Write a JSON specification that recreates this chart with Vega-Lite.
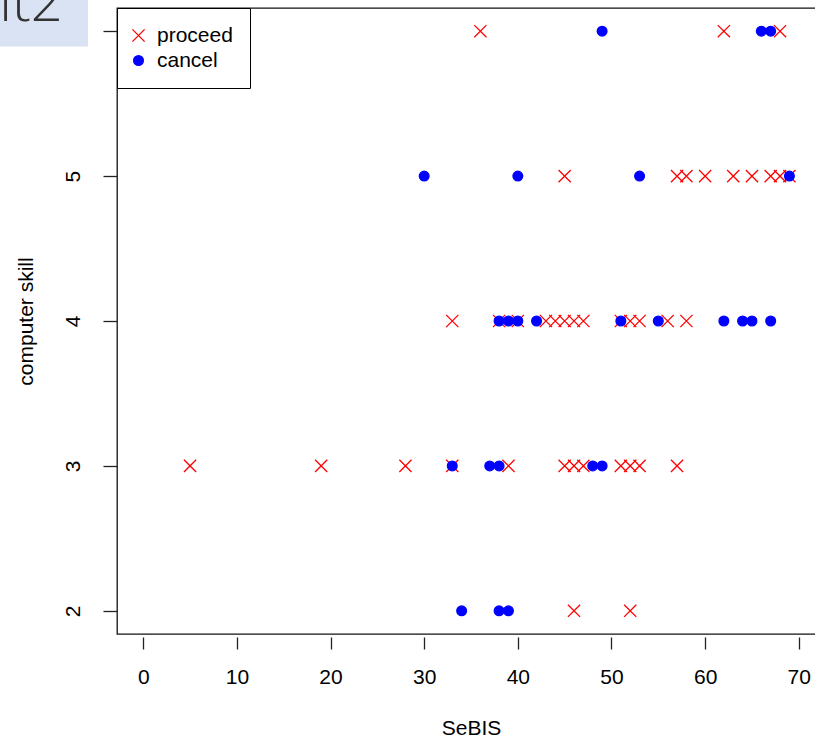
{
  "$schema": "https://vega.github.io/schema/vega-lite/v6.json",
  "width": 708,
  "height": 626,
  "autosize": {"type": "none"},
  "padding": {"left": 117, "top": 8, "right": 0, "bottom": 104},
  "background": "white",
  "config": {
    "view": {"stroke": "#111111", "strokeWidth": 1.3},
    "font": "Liberation Sans",
    "axis": {"grid": false, "labelFont": "Liberation Sans", "titleFont": "Liberation Sans"}
  },
  "layer": [
    {
      "data": {"values": [{}]},
      "mark": {"type": "rect", "color": "#dae3f3", "clip": false},
      "encoding": {
        "x": {"datum": -20, "type": "quantitative"},
        "x2": {"datum": -5.9},
        "y": {"datum": 6.4, "type": "quantitative"},
        "y2": {"datum": 5.895}
      }
    },
    {
      "data": {"values": [{"label": "lt2"}]},
      "mark": {"type": "text", "align": "right", "baseline": "alphabetic", "font": "Open Sans", "fontWeight": 300, "fontSize": 56, "color": "#333333", "clip": false},
      "encoding": {
        "x": {"datum": -8.6, "type": "quantitative"},
        "y": {"datum": 6.07, "type": "quantitative"},
        "text": {"field": "label"}
      }
    },
    {
      "data": {
        "values": [
          {"SeBIS": 36, "skill": 6, "decision": "proceed"},
          {"SeBIS": 62, "skill": 6, "decision": "proceed"},
          {"SeBIS": 68, "skill": 6, "decision": "proceed"},
          {"SeBIS": 45, "skill": 5, "decision": "proceed"},
          {"SeBIS": 57, "skill": 5, "decision": "proceed"},
          {"SeBIS": 58, "skill": 5, "decision": "proceed"},
          {"SeBIS": 60, "skill": 5, "decision": "proceed"},
          {"SeBIS": 63, "skill": 5, "decision": "proceed"},
          {"SeBIS": 65, "skill": 5, "decision": "proceed"},
          {"SeBIS": 67, "skill": 5, "decision": "proceed"},
          {"SeBIS": 68, "skill": 5, "decision": "proceed"},
          {"SeBIS": 69, "skill": 5, "decision": "proceed"},
          {"SeBIS": 33, "skill": 4, "decision": "proceed"},
          {"SeBIS": 38, "skill": 4, "decision": "proceed"},
          {"SeBIS": 40, "skill": 4, "decision": "proceed"},
          {"SeBIS": 43, "skill": 4, "decision": "proceed"},
          {"SeBIS": 44, "skill": 4, "decision": "proceed"},
          {"SeBIS": 45, "skill": 4, "decision": "proceed"},
          {"SeBIS": 46, "skill": 4, "decision": "proceed"},
          {"SeBIS": 47, "skill": 4, "decision": "proceed"},
          {"SeBIS": 51, "skill": 4, "decision": "proceed"},
          {"SeBIS": 52, "skill": 4, "decision": "proceed"},
          {"SeBIS": 53, "skill": 4, "decision": "proceed"},
          {"SeBIS": 56, "skill": 4, "decision": "proceed"},
          {"SeBIS": 58, "skill": 4, "decision": "proceed"},
          {"SeBIS": 5, "skill": 3, "decision": "proceed"},
          {"SeBIS": 19, "skill": 3, "decision": "proceed"},
          {"SeBIS": 28, "skill": 3, "decision": "proceed"},
          {"SeBIS": 33, "skill": 3, "decision": "proceed"},
          {"SeBIS": 39, "skill": 3, "decision": "proceed"},
          {"SeBIS": 45, "skill": 3, "decision": "proceed"},
          {"SeBIS": 46, "skill": 3, "decision": "proceed"},
          {"SeBIS": 47, "skill": 3, "decision": "proceed"},
          {"SeBIS": 51, "skill": 3, "decision": "proceed"},
          {"SeBIS": 52, "skill": 3, "decision": "proceed"},
          {"SeBIS": 53, "skill": 3, "decision": "proceed"},
          {"SeBIS": 57, "skill": 3, "decision": "proceed"},
          {"SeBIS": 46, "skill": 2, "decision": "proceed"},
          {"SeBIS": 52, "skill": 2, "decision": "proceed"},
          {"SeBIS": 49, "skill": 6, "decision": "cancel"},
          {"SeBIS": 66, "skill": 6, "decision": "cancel"},
          {"SeBIS": 67, "skill": 6, "decision": "cancel"},
          {"SeBIS": 30, "skill": 5, "decision": "cancel"},
          {"SeBIS": 40, "skill": 5, "decision": "cancel"},
          {"SeBIS": 53, "skill": 5, "decision": "cancel"},
          {"SeBIS": 69, "skill": 5, "decision": "cancel"},
          {"SeBIS": 38, "skill": 4, "decision": "cancel"},
          {"SeBIS": 39, "skill": 4, "decision": "cancel"},
          {"SeBIS": 40, "skill": 4, "decision": "cancel"},
          {"SeBIS": 42, "skill": 4, "decision": "cancel"},
          {"SeBIS": 51, "skill": 4, "decision": "cancel"},
          {"SeBIS": 55, "skill": 4, "decision": "cancel"},
          {"SeBIS": 62, "skill": 4, "decision": "cancel"},
          {"SeBIS": 64, "skill": 4, "decision": "cancel"},
          {"SeBIS": 65, "skill": 4, "decision": "cancel"},
          {"SeBIS": 67, "skill": 4, "decision": "cancel"},
          {"SeBIS": 33, "skill": 3, "decision": "cancel"},
          {"SeBIS": 37, "skill": 3, "decision": "cancel"},
          {"SeBIS": 38, "skill": 3, "decision": "cancel"},
          {"SeBIS": 48, "skill": 3, "decision": "cancel"},
          {"SeBIS": 49, "skill": 3, "decision": "cancel"},
          {"SeBIS": 34, "skill": 2, "decision": "cancel"},
          {"SeBIS": 38, "skill": 2, "decision": "cancel"},
          {"SeBIS": 39, "skill": 2, "decision": "cancel"}
        ]
      },
      "mark": {"type": "point", "filled": true, "size": 95, "strokeWidth": 1.3, "opacity": 1},
      "encoding": {
        "x": {
          "field": "SeBIS", "type": "quantitative",
          "scale": {"domain": [-2.8, 72.8], "nice": false, "zero": false},
          "axis": {
            "title": "SeBIS", "values": [0, 10, 20, 30, 40, 50, 60, 70], "format": "d",
            "offset": 3, "domain": false, "tickSize": 12, "tickColor": "#222222", "tickWidth": 1.3,
            "labelFontSize": 21, "labelColor": "black", "labelPadding": 17, "labelFlush": false,
            "titleFontSize": 21, "titleFontWeight": "normal", "titleColor": "black", "titlePadding": 30
          }
        },
        "y": {
          "field": "skill", "type": "quantitative",
          "scale": {"domain": [1.84, 6.16], "nice": false, "zero": false},
          "axis": {
            "title": "computer skill", "values": [2, 3, 4, 5, 6], "format": "d",
            "domain": false, "tickSize": 14, "tickColor": "#222222", "tickWidth": 1.3,
            "labelAngle": -90, "labelAlign": "center", "labelBaseline": "bottom",
            "labelFontSize": 21, "labelColor": "black", "labelPadding": 20, "labelFlush": false,
            "titleFontSize": 21, "titleFontWeight": "normal", "titleColor": "black", "titlePadding": 26
          }
        },
        "fill": {
          "field": "decision", "type": "nominal",
          "scale": {"domain": ["proceed", "cancel"], "range": ["#FF0000", "#0000FF"]},
          "legend": {
            "orient": "top-left", "offset": 0, "title": null,
            "strokeColor": "black", "fillColor": "white", "padding": 17,
            "labelFontSize": 21, "labelColor": "black", "labelFont": "Liberation Sans",
            "symbolSize": 95, "symbolStrokeWidth": 1.3, "rowPadding": 3, "labelOffset": 8, "symbolOffset": -6
          }
        },
        "stroke": {
          "field": "decision", "type": "nominal",
          "scale": {"domain": ["proceed", "cancel"], "range": ["#FF0000", "#0000FF"]},
          "legend": {
            "orient": "top-left", "offset": 0, "title": null,
            "strokeColor": "black", "fillColor": "white", "padding": 17,
            "labelFontSize": 21, "labelColor": "black", "labelFont": "Liberation Sans",
            "symbolSize": 95, "symbolStrokeWidth": 1.3, "rowPadding": 3, "labelOffset": 8, "symbolOffset": -6
          }
        },
        "shape": {
          "field": "decision", "type": "nominal",
          "scale": {"domain": ["proceed", "cancel"], "range": ["M-1.25,-1.25L1.25,1.25M-1.25,1.25L1.25,-1.25", "circle"]},
          "legend": {
            "orient": "top-left", "offset": 0, "title": null,
            "strokeColor": "black", "fillColor": "white", "padding": 17,
            "labelFontSize": 21, "labelColor": "black", "labelFont": "Liberation Sans",
            "symbolSize": 95, "symbolStrokeWidth": 1.3, "rowPadding": 3, "labelOffset": 8, "symbolOffset": -6
          }
        }
      }
    }
  ]
}
